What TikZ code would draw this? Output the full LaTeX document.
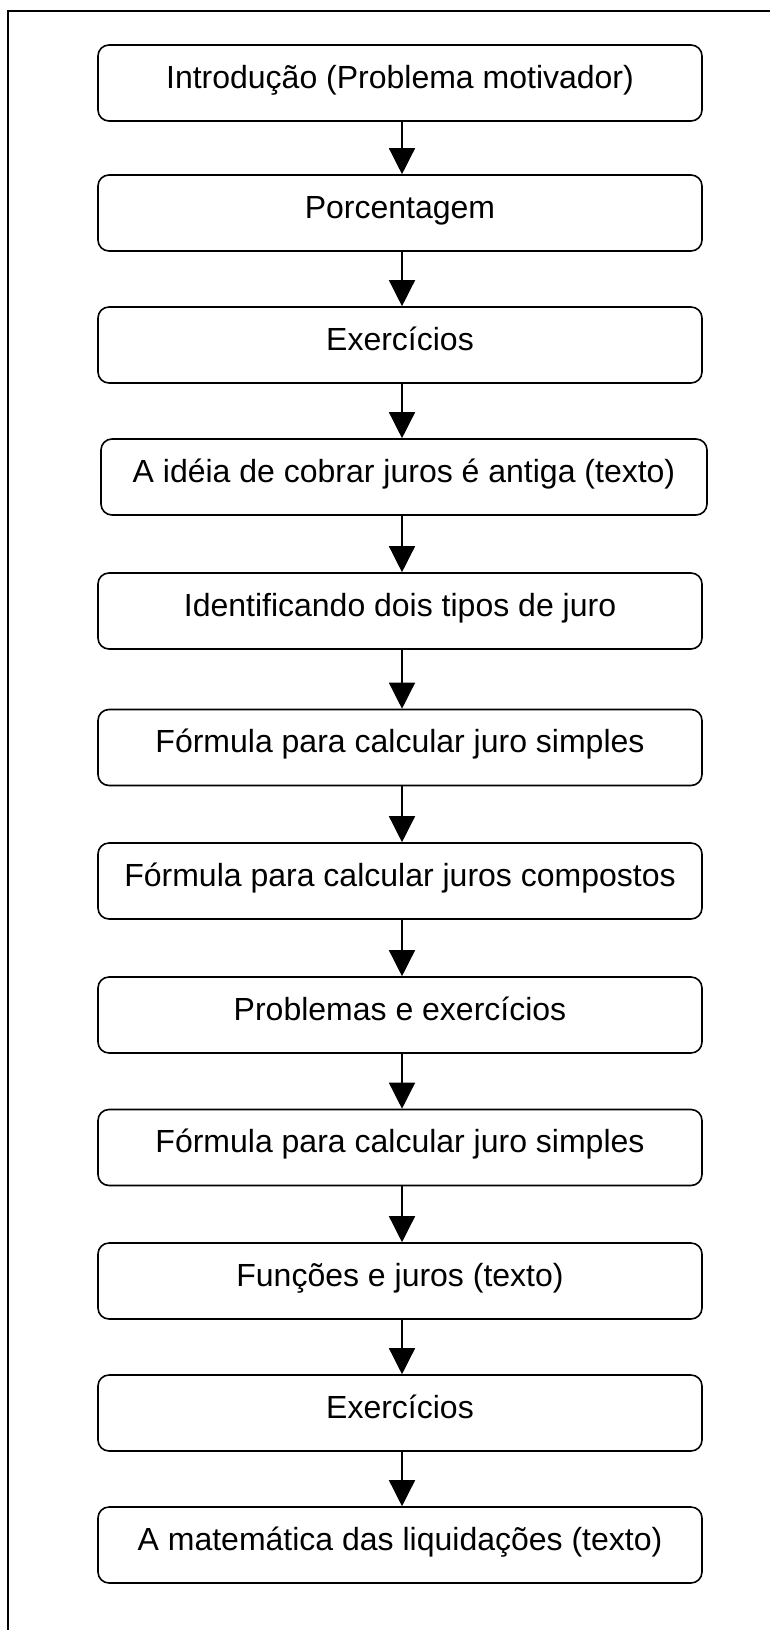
\documentclass[tikz,border=0pt]{standalone}
\usepackage{fontspec}
\setmainfont{Liberation Sans}
\usetikzlibrary{arrows.meta}
\begin{document}
\begin{tikzpicture}[x=1pt,y=-1pt,
  box/.style={draw, line width=1.6pt, rounded corners=11pt, minimum width=604pt,
    minimum height=76pt, inner sep=0pt, font=\fontsize{32}{38}\selectfont,
    text height=20pt, text depth=10pt},
  arr/.style={line width=1.4pt, -{Triangle[width=26pt,length=26pt]}},
  frame/.style={line width=1.6pt}]
\useasboundingbox (0,0) rectangle (769,1630);
\draw[frame] (8,1632) -- (8,11) -- (771,11);
\node[box] (b1) at (400,83) {Introdução (Problema motivador)};
\node[box] (b2) at (400,213) {Porcentagem};
\node[box] (b3) at (400,345) {Exercícios};
\node[box, minimum width=606pt] (b4) at (404,477) {A idéia de cobrar juros é antiga (texto)};
\node[box] (b5) at (400,611) {Identificando dois tipos de juro};
\node[box] (b6) at (400,747.5) {Fórmula para calcular juro simples};
\node[box] (b7) at (400,881) {Fórmula para calcular juros compostos};
\node[box] (b8) at (400,1015) {Problemas e exercícios};
\node[box] (b9) at (400,1147.5) {Fórmula para calcular juro simples};
\node[box] (b10) at (400,1281) {Funções e juros (texto)};
\node[box] (b11) at (400,1413) {Exercícios};
\node[box] (b12) at (400,1545) {A matemática das liquidações (texto)};
\foreach \a/\b in {b1/b2,b2/b3,b3/b4,b4/b5,b5/b6,b6/b7,b7/b8,b8/b9,b9/b10,b10/b11,b11/b12}
  \draw[arr] ([xshift=2pt]\a.south -| b1.south) -- ([xshift=2pt]\b.north -| b1.south);
\end{tikzpicture}
\end{document}
